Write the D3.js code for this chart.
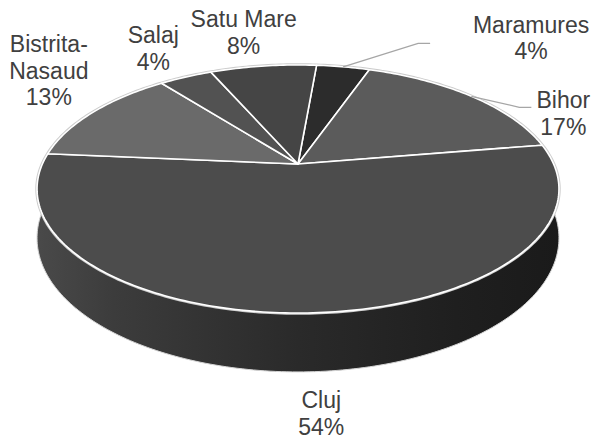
<!DOCTYPE html>
<html>
<head>
<meta charset="utf-8">
<title>pie3d</title>
<script src="https://cdnjs.cloudflare.com/ajax/libs/d3/7.8.5/d3.min.js"></script>
<style>
	body { margin: 0; background: #fff; }
	text { font-family: "Liberation Sans", Arial, sans-serif; }
</style>
</head>
<body>
<div id="chart"></div>
<script>
	//data, clockwise from the top
	var regions = ["Maramures", "Bihor", "Cluj", "Bistrita-Nasaud", "Salaj", "Satu Mare"];
	var shares = [4, 17, 54, 13, 4, 8];

	//look
	var fills = ["#2c2c2c", "#5b5b5b", "#4c4c4c", "#6a6a6a", "#525252", "#454545"];
	var labelNudge = [[188, -34], [92, 12], [11, 36.5], [-44, -60], [-32.5, -34], [-19.5, -39]];
	var leaderEnd = [[-101, 10.6], [-32, -1], null, null, null, null];

	var width = 594, height = 439;
	var cx = 298, cy = 164, kx = 255.6, ky = 119;
	var persp = -0.2016;   //perspective factor along depth
	var depth = 47;        //thickness of the pie
	var startDeg = 5;
	var lineGap = 26.5;

	var svg = d3.select('#chart')
		.append('svg')
		.attr('width', width)
		.attr('height', height);

	var xScale = d3.scaleLinear().domain([-1, 1]).range([cx - kx, cx + kx]);
	var yScale = d3.scaleLinear().domain([-1, 1]).range([cy - ky, cy + ky]);

	//angle on the disc -> screen point
	function project(a, r, drop) {
		var s = r * Math.sin(a), t = -r * Math.cos(a);
		var d = 1 + persp * t;
		return [xScale(s / d), yScale(t / d) + (drop ? depth / d : 0)];
	}

	function arcPts(a0, a1, drop) {
		var n = Math.max(2, Math.ceil(Math.abs(a1 - a0) / (Math.PI / 180)));
		return d3.range(n + 1).map(function(i){ return project(a0 + (a1 - a0) * i / n, 1, drop); });
	}

	var line = d3.line();

	var start = startDeg * Math.PI / 180;
	var pie = d3.pie().sort(null).startAngle(start).endAngle(start + 2 * Math.PI);
	var arcs = pie(shares);
	var total = d3.sum(shares);
	var pct = d3.format(".0%");

	//side gradient
	var grad = svg.append('defs').append('linearGradient')
		.attr('id', 'side')
		.attr('gradientUnits', 'userSpaceOnUse')
		.attr('x1', cx - kx * 1.03).attr('x2', cx + kx * 1.03)
		.attr('y1', 0).attr('y2', 0);
	[[0, '#4a4a4a'], [0.15, '#3c3c3c'], [0.5, '#2a2a2a'], [0.8, '#1f1f1f'], [1, '#1a1a1a']].forEach(function(s){
		grad.append('stop').attr('offset', s[0]).attr('stop-color', s[1]);
	});

	//front sides
	var frontLo = Math.PI / 2, frontHi = 3 * Math.PI / 2;
	arcs.forEach(function(d){
		var lo = Math.max(d.startAngle, frontLo), hi = Math.min(d.endAngle, frontHi);
		if (hi <= lo) return;
		var pts = arcPts(lo, hi, false).concat(arcPts(hi, lo, true));
		svg.append('path')
			.attr('d', line(pts) + 'Z')
			.attr('fill', 'url(#side)')
			.attr('stroke', '#d4d4d4')
			.attr('stroke-width', 1);
	});

	//outer edge of the top face
	svg.append('path')
		.attr('d', line(arcPts(0, 2 * Math.PI, false)) + 'Z')
		.attr('fill', 'none')
		.attr('stroke', '#cccccc')
		.attr('stroke-width', 3.5);

	//top slices
	svg.selectAll('.slice')
		.data(arcs)
		.enter()
		.append('path')
		.attr('class', 'slice')
		.attr('d', function(d){
			return line([project(0, 0, false)].concat(arcPts(d.startAngle, d.endAngle, false))) + 'Z';
		})
		.attr('fill', function(d, i){ return fills[i]; })
		.attr('stroke', '#ffffff')
		.attr('stroke-width', 1.6)
		.attr('stroke-linejoin', 'round');

	//labels
	arcs.forEach(function(d, i){
		var mid = (d.startAngle + d.endAngle) / 2;
		var front = Math.cos(mid) < 0;
		var rim = project(mid, 1, front);
		var lx = rim[0] + labelNudge[i][0];
		var ly = rim[1] + labelNudge[i][1];

		if (leaderEnd[i]) {
			var e = [lx + leaderEnd[i][0], ly + leaderEnd[i][1]];
			var b = [e[0] - 12, e[1]];
			svg.append('path')
				.attr('d', line([project(mid, 1, false), b, e]))
				.attr('fill', 'none')
				.attr('stroke', '#a6a6a6')
				.attr('stroke-width', 1.3);
		}

		var lines = regions[i].split(/(?<=-)/).concat([pct(shares[i] / total)]);
		var txt = svg.append('text')
			.attr('x', lx)
			.attr('y', ly)
			.attr('text-anchor', 'middle')
			.attr('font-size', 23)
			.attr('fill', '#404040');
		lines.forEach(function(l, j){
			txt.append('tspan')
				.attr('x', lx)
				.attr('dy', j ? lineGap : 0)
				.text(l);
		});
	});
</script>
</body>
</html>
